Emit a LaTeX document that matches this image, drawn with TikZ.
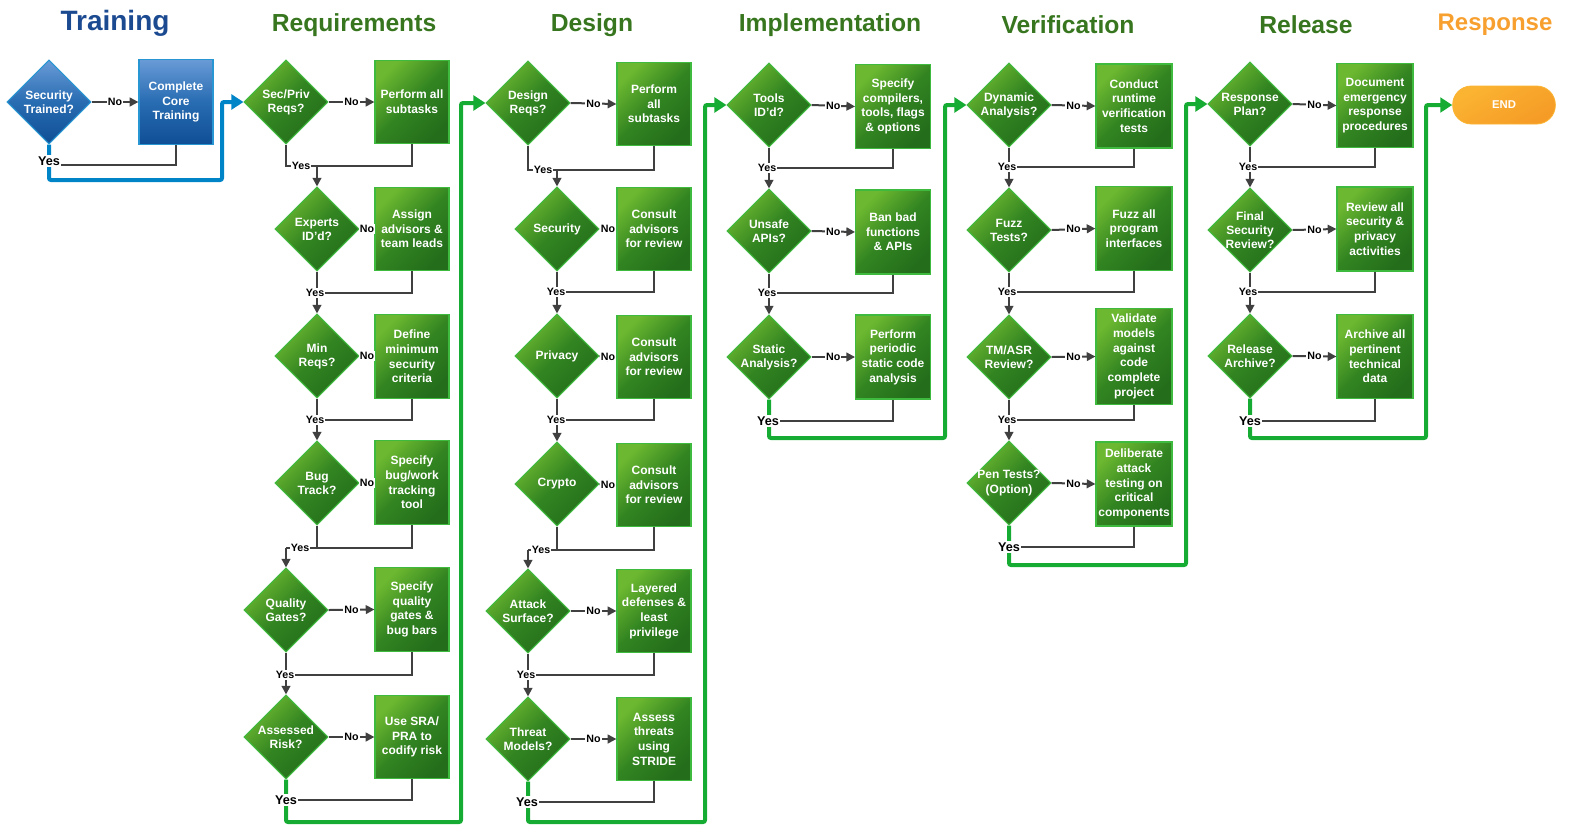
\documentclass[tikz,border=0pt]{standalone}
\usepackage{fontspec}
\setmainfont{Liberation Sans}
\usetikzlibrary{arrows.meta}
\usetikzlibrary{shapes.geometric}

\definecolor{hdgreen}{RGB}{55,118,30}
\definecolor{hdblue}{RGB}{28,74,145}
\definecolor{hdorange}{RGB}{247,160,48}
\definecolor{grlight}{RGB}{108,184,48}
\definecolor{grmid}{RGB}{50,132,33}
\definecolor{grdark}{RGB}{36,110,27}
\definecolor{grborder}{RGB}{62,186,62}
\definecolor{bllight}{RGB}{105,155,215}
\definecolor{blmid}{RGB}{40,108,178}
\definecolor{bldark}{RGB}{15,78,148}
\definecolor{blborder}{RGB}{40,150,210}
\definecolor{flowgreen}{RGB}{22,172,52}
\definecolor{flowblue}{RGB}{0,132,200}
\definecolor{conngray}{RGB}{64,64,64}
\definecolor{endlight}{RGB}{251,180,50}
\definecolor{enddark}{RGB}{245,155,38}

\tikzset{
  dia/.style={diamond, minimum width=63pt, minimum height=63pt, inner sep=0pt, draw=grborder, line width=0.8pt,
    top color=grlight, bottom color=grdark, middle color=grmid, shading angle=45},
  bluedia/.style={dia, draw=blborder, top color=bllight, bottom color=bldark, middle color=blmid},
  dtext/.style={text=white, font=\bfseries\fontsize{9}{10.6}\selectfont, align=center, inner sep=0pt},
  task/.style={rectangle, minimum width=55.5pt, minimum height=62.5pt, inner sep=1pt, draw=grborder, line width=0.9pt,
    top color=grlight, bottom color=grdark, middle color=grmid, shading angle=45,
    text=white, font=\bfseries\fontsize{9}{11}\selectfont, align=center},
  bluetask/.style={task, draw=blborder, top color=bllight, bottom color=bldark, middle color=blmid},
  endbox/.style={rectangle, rounded corners=14pt, minimum width=77pt, minimum height=28.5pt, draw=endlight, line width=0.6pt,
    top color=endlight, bottom color=enddark, shading angle=30, text=white, font=\bfseries\fontsize{8.5}{10}\selectfont},
  conn/.style={draw=conngray, line width=1.5pt},
  connarrow/.style={conn, -{Triangle[length=6.5pt,width=6.5pt]}},
  flow/.style={draw=flowgreen, line width=3pt, rounded corners=1.5pt, -{Triangle[length=9pt,width=11pt]}},
  blueflow/.style={flow, draw=flowblue},
  yesno/.style={fill=white, inner sep=0.8pt, font=\bfseries\fontsize{8}{9}\selectfont},
  yesbig/.style={fill=white, inner sep=1pt, font=\bfseries\fontsize{9.5}{10}\selectfont},
  phase/.style={font=\bfseries\fontsize{18.5}{22}\selectfont, text=hdgreen}
}

\begin{document}
\begin{tikzpicture}[x=0.75pt,y=0.75pt,yscale=-1,xscale=1]
\useasboundingbox (0,0) rectangle (1570,833);

% Text Node: phase titles
\node[phase, text=hdblue, font=\bfseries\fontsize{21}{24}\selectfont] (hTrain) at (115,23) {Training};
\node[phase] (hReq) at (354,25) {Requirements};
\node[phase] (hDes) at (592,25) {Design};
\node[phase] (hImp) at (830,25) {Implementation};
\node[phase] (hVer) at (1068,25) {Verification};
\node[phase] (hRel) at (1306,25) {Release};
\node[phase, text=hdorange, font=\bfseries\fontsize{18}{22}\selectfont] (hResp) at (1495,25) {Response};

%Shape: Training
\node[bluedia, label={[dtext]center:{Security\\Trained?}}] (tq1) at (49,102) {};
\node[bluetask, minimum height=64pt] (ta1) at (176,102) {Complete\\Core\\Training};

%Shape: Requirements diamonds
\node[dia, label={[dtext]center:{Sec/Priv\\Reqs?}}] (rq1) at (286,102) {};
\node[dia, label={[dtext]center:{Experts\\ID’d?}}] (rq2) at (317,229) {};
\node[dia, label={[dtext]center:{Min\\Reqs?}}] (rq3) at (317,356) {};
\node[dia, label={[dtext]center:{Bug\\Track?}}] (rq4) at (317,483) {};
\node[dia, label={[dtext]center:{Quality\\Gates?}}] (rq5) at (286,610) {};
\node[dia, label={[dtext]center:{Assessed\\Risk?}}] (rq6) at (286,737) {};
%Shape: Requirements tasks
\node[task] (ra1) at (412,102) {Perform all\\subtasks};
\node[task] (ra2) at (412,229) {Assign\\advisors \&\\team leads};
\node[task] (ra3) at (412,356.5) {Define\\minimum\\security\\criteria};
\node[task] (ra4) at (412,482.5) {Specify\\bug/work\\tracking\\tool};
\node[task] (ra5) at (412,609.5) {Specify\\quality\\gates \&\\bug bars};
\node[task] (ra6) at (412,737) {Use SRA/\\PRA to\\codify risk};

%Shape: Design diamonds
\node[dia, label={[dtext]center:{Design\\Reqs?}}] (dq1) at (528,103) {};
\node[dia, label={[dtext]center:{Security}}] (dq2) at (557,229) {};
\node[dia, label={[dtext]center:{Privacy}}] (dq3) at (557,356) {};
\node[dia, label={[dtext]center:{Crypto}}] (dq4) at (557,484) {};
\node[dia, label={[dtext]center:{Attack\\Surface?}}] (dq5) at (528,611) {};
\node[dia, label={[dtext]center:{Threat\\Models?}}] (dq6) at (528,739) {};
%Shape: Design tasks
\node[task] (da1) at (654,104) {Perform\\all\\subtasks};
\node[task] (da2) at (654,229) {Consult\\advisors\\for review};
\node[task] (da3) at (654,357) {Consult\\advisors\\for review};
\node[task] (da4) at (654,485) {Consult\\advisors\\for review};
\node[task] (da5) at (654,611) {Layered\\defenses \&\\least\\privilege};
\node[task] (da6) at (654,739) {Assess\\threats\\using\\STRIDE};

%Shape: Implementation
\node[dia, label={[dtext]center:{Tools\\ID’d?}}] (iq1) at (769,105) {};
\node[dia, label={[dtext]center:{Unsafe\\APIs?}}] (iq2) at (769,231) {};
\node[dia, label={[dtext]center:{Static\\Analysis?}}] (iq3) at (769,357) {};
\node[task, minimum width=56pt, minimum height=63.5pt] (ia1) at (893,106.5) {Specify\\compilers,\\tools, flags\\\& options};
\node[task, minimum width=56pt, minimum height=63pt] (ia2) at (893,232) {Ban bad\\functions\\\& APIs};
\node[task, minimum width=56pt, minimum height=63pt] (ia3) at (893,357) {Perform\\periodic\\static code\\analysis};

%Shape: Verification
\node[dia, label={[dtext]center:{Dynamic\\Analysis?}}] (vq1) at (1009,105) {};
\node[dia, label={[dtext]center:{Fuzz\\Tests?}}] (vq2) at (1009,230) {};
\node[dia, label={[dtext]center:{TM/ASR\\Review?}}] (vq3) at (1009,357) {};
\node[dia, label={[dtext]center:{Pen Tests?\\(Option)}}] (vq4) at (1009,483) {};
\node[task, minimum width=57pt, minimum height=63pt] (va1) at (1134,106) {Conduct\\runtime\\verification\\tests};
\node[task, minimum width=57pt, minimum height=63.5pt] (va2) at (1134,228.5) {Fuzz all\\program\\interfaces};
\node[task, minimum width=57pt, minimum height=72.5pt] (va3) at (1134,356.5) {Validate\\models\\against\\code\\complete\\project};
\node[task, minimum width=57pt, minimum height=63pt] (va4) at (1134,484) {Deliberate\\attack\\testing on\\critical\\components};

%Shape: Release
\node[dia, label={[dtext]center:{Response\\Plan?}}] (lq1) at (1250,104) {};
\node[dia, label={[dtext]center:{Final\\Security\\Review?}}] (lq2) at (1250,230) {};
\node[dia, label={[dtext]center:{Release\\Archive?}}] (lq3) at (1250,356) {};
\node[task, minimum width=57pt, minimum height=63.5pt] (la1) at (1375,105.5) {Document\\emergency\\response\\procedures};
\node[task, minimum width=57pt, minimum height=63pt] (la2) at (1375,229) {Review all\\security \&\\privacy\\activities};
\node[task, minimum width=57pt, minimum height=63.5pt] (la3) at (1375,356.5) {Archive all\\pertinent\\technical\\data};

%Shape: Response
\node[endbox] (fin) at (1504,105) {END};

% Junction points
\coordinate (tj) at (49,165);     \coordinate (tturn) at (222,180);
\coordinate (rj1) at (317,166);   \coordinate (rj2) at (317,293);   \coordinate (rj3) at (317,420);
\coordinate (rj4) at (286,548);   \coordinate (rj5) at (286,675);   \coordinate (rj6) at (286,800);
\coordinate (rturn) at (461,822);
\coordinate (dj1) at (557,170);   \coordinate (dj2) at (557,292);   \coordinate (dj3) at (557,420);
\coordinate (dj4) at (528,550);   \coordinate (dj5) at (528,675);   \coordinate (dj6) at (528,802);
\coordinate (dturn) at (705,822);
\coordinate (ij1) at (769,168);   \coordinate (ij2) at (769,293);   \coordinate (ij3) at (769,421);
\coordinate (iturn) at (945,438);
\coordinate (vj1) at (1009,167);  \coordinate (vj2) at (1009,292);  \coordinate (vj3) at (1009,420);
\coordinate (vj4) at (1009,547);  \coordinate (vturn) at (1186,565);
\coordinate (lj1) at (1250,167);  \coordinate (lj2) at (1250,292);  \coordinate (lj3) at (1250,421);
\coordinate (lturn) at (1426,438);

%Straight Lines: No branches
\draw[connarrow] (tq1.east) -- node[yesno]{No} (ta1.west);
\draw[connarrow] (rq1.east) -- node[yesno]{No} (ra1.west);
\draw[connarrow] (rq2.east) -- node[yesno]{No} (ra2.west);
\draw[connarrow] (rq3.east) -- node[yesno]{No} (ra3.west);
\draw[connarrow] (rq4.east) -- node[yesno]{No} (ra4.west);
\draw[connarrow] (rq5.east) -- node[yesno]{No} (ra5.west);
\draw[connarrow] (rq6.east) -- node[yesno]{No} (ra6.west);
\draw[connarrow] (dq1.east) -- node[yesno]{No} (da1.west);
\draw[connarrow] (dq2.east) -- node[yesno]{No} (da2.west);
\draw[connarrow] (dq3.east) -- node[yesno]{No} (da3.west);
\draw[connarrow] (dq4.east) -- node[yesno]{No} (da4.west);
\draw[connarrow] (dq5.east) -- node[yesno]{No} (da5.west);
\draw[connarrow] (dq6.east) -- node[yesno]{No} (da6.west);
\draw[connarrow] (iq1.east) -- node[yesno]{No} (ia1.west);
\draw[connarrow] (iq2.east) -- node[yesno]{No} (ia2.west);
\draw[connarrow] (iq3.east) -- node[yesno]{No} (ia3.west);
\draw[connarrow] (vq1.east) -- node[yesno]{No} (va1.west);
\draw[connarrow] (vq2.east) -- node[yesno]{No} (va2.west);
\draw[connarrow] (vq3.east) -- node[yesno]{No} (va3.west);
\draw[connarrow] (vq4.east) -- node[yesno]{No} (va4.west);
\draw[connarrow] (lq1.east) -- node[yesno]{No} (la1.west);
\draw[connarrow] (lq2.east) -- node[yesno]{No} (la2.west);
\draw[connarrow] (lq3.east) -- node[yesno]{No} (la3.west);

%Straight Lines: return from tasks
\draw[conn] (ta1.south) |- (tj);
\draw[conn] (rq1.south) |- (rj1);  \draw[conn] (ra1.south) |- (rj1);  \draw[connarrow] (rj1) -- (rq2.north);
\draw[conn] (rq2.south) -- (rj2);  \draw[conn] (ra2.south) |- (rj2);  \draw[connarrow] (rj2) -- (rq3.north);
\draw[conn] (rq3.south) -- (rj3);  \draw[conn] (ra3.south) |- (rj3);  \draw[connarrow] (rj3) -- (rq4.north);
\draw[conn] (rq4.south) |- (rj4);  \draw[conn] (ra4.south) |- (rj4);  \draw[connarrow] (rj4) -- (rq5.north);
\draw[conn] (rq5.south) -- (rj5);  \draw[conn] (ra5.south) |- (rj5);  \draw[connarrow] (rj5) -- (rq6.north);
\draw[conn] (ra6.south) |- (rj6);
\draw[conn] (dq1.south) |- (dj1);  \draw[conn] (da1.south) |- (dj1);  \draw[connarrow] (dj1) -- (dq2.north);
\draw[conn] (dq2.south) -- (dj2);  \draw[conn] (da2.south) |- (dj2);  \draw[connarrow] (dj2) -- (dq3.north);
\draw[conn] (dq3.south) -- (dj3);  \draw[conn] (da3.south) |- (dj3);  \draw[connarrow] (dj3) -- (dq4.north);
\draw[conn] (dq4.south) |- (dj4);  \draw[conn] (da4.south) |- (dj4);  \draw[connarrow] (dj4) -- (dq5.north);
\draw[conn] (dq5.south) -- (dj5);  \draw[conn] (da5.south) |- (dj5);  \draw[connarrow] (dj5) -- (dq6.north);
\draw[conn] (da6.south) |- (dj6);
\draw[conn] (iq1.south) -- (ij1);  \draw[conn] (ia1.south) |- (ij1);  \draw[connarrow] (ij1) -- (iq2.north);
\draw[conn] (iq2.south) -- (ij2);  \draw[conn] (ia2.south) |- (ij2);  \draw[connarrow] (ij2) -- (iq3.north);
\draw[conn] (ia3.south) |- (ij3);
\draw[conn] (vq1.south) -- (vj1);  \draw[conn] (va1.south) |- (vj1);  \draw[connarrow] (vj1) -- (vq2.north);
\draw[conn] (vq2.south) -- (vj2);  \draw[conn] (va2.south) |- (vj2);  \draw[connarrow] (vj2) -- (vq3.north);
\draw[conn] (vq3.south) -- (vj3);  \draw[conn] (va3.south) |- (vj3);  \draw[connarrow] (vj3) -- (vq4.north);
\draw[conn] (va4.south) |- (vj4);
\draw[conn] (lq1.south) -- (lj1);  \draw[conn] (la1.south) |- (lj1);  \draw[connarrow] (lj1) -- (lq2.north);
\draw[conn] (lq2.south) -- (lj2);  \draw[conn] (la2.south) |- (lj2);  \draw[connarrow] (lj2) -- (lq3.north);
\draw[conn] (la3.south) |- (lj3);

%Straight Lines: phase hand-over
\draw[blueflow] (tq1.south) |- (tturn) |- (rq1.west);
\draw[flow] (rq6.south) |- (rturn) |- (dq1.west);
\draw[flow] (dq6.south) |- (dturn) |- (iq1.west);
\draw[flow] (iq3.south) |- (iturn) |- (vq1.west);
\draw[flow] (vq4.south) |- (vturn) |- (lq1.west);
\draw[flow] (lq3.south) |- (lturn) |- (fin.west);

% Text Node: Yes labels
\node[yesbig] (ty) at (49,161) {Yes};
\node[yesno] (ry1) at (301,166) {Yes};
\node[yesno] (ry2) at (315,293) {Yes};
\node[yesno] (ry3) at (315,420) {Yes};
\node[yesno] (ry4) at (300,548) {Yes};
\node[yesno] (ry5) at (285,675) {Yes};
\node[yesbig] (ry6) at (286,800) {Yes};
\node[yesno] (dy1) at (543,170) {Yes};
\node[yesno] (dy2) at (556,292) {Yes};
\node[yesno] (dy3) at (556,420) {Yes};
\node[yesno] (dy4) at (541,550) {Yes};
\node[yesno] (dy5) at (526,675) {Yes};
\node[yesbig] (dy6) at (527,802) {Yes};
\node[yesno] (iy1) at (767,168) {Yes};
\node[yesno] (iy2) at (767,293) {Yes};
\node[yesbig] (iy3) at (768,421) {Yes};
\node[yesno] (vy1) at (1007,167) {Yes};
\node[yesno] (vy2) at (1007,292) {Yes};
\node[yesno] (vy3) at (1007,420) {Yes};
\node[yesbig] (vy4) at (1009,547) {Yes};
\node[yesno] (ly1) at (1248,167) {Yes};
\node[yesno] (ly2) at (1248,292) {Yes};
\node[yesbig] (ly3) at (1250,421) {Yes};

\end{tikzpicture}
\end{document}
